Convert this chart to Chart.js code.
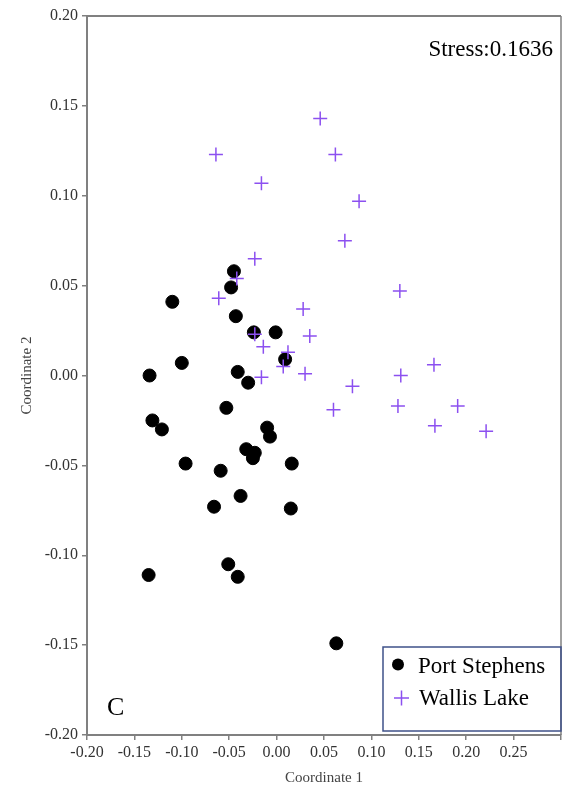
<!DOCTYPE html>
<html>
<head>
<meta charset="utf-8">
<script src="https://cdn.jsdelivr.net/npm/chart.js@4.4.1/dist/chart.umd.min.js"></script>
<style>
  html, body { margin: 0; padding: 0; background: #fff; }
</style>
</head>
<body>
<canvas id="chart" width="564" height="790"></canvas>
<script>
// Port Stephens (black dots)
var psX = [-0.045, -0.048, -0.110, -0.043, -0.024, -0.001, 0.009, -0.100, -0.134, -0.041, -0.030, -0.053, -0.131, -0.121, -0.010, -0.007, -0.032, -0.023, -0.025, -0.096, 0.016, -0.059, -0.038, -0.066, 0.015, -0.135, -0.051, -0.041, 0.063];
var psY = [0.058, 0.049, 0.041, 0.033, 0.024, 0.024, 0.009, 0.007, 0.000, 0.002, -0.004, -0.018, -0.025, -0.030, -0.029, -0.034, -0.041, -0.043, -0.046, -0.049, -0.049, -0.053, -0.067, -0.073, -0.074, -0.111, -0.105, -0.112, -0.149];

// Wallis Lake (purple crosses)
var wlX = [-0.064, -0.016, -0.023, 0.046, 0.062, 0.087, 0.072, -0.042, -0.061, -0.023, -0.014, 0.012, 0.007, -0.016, 0.028, 0.130, 0.035, 0.030, 0.166, 0.131, 0.080, 0.060, 0.128, 0.191, 0.167, 0.221];
var wlY = [0.123, 0.107, 0.065, 0.143, 0.123, 0.097, 0.075, 0.054, 0.043, 0.023, 0.016, 0.013, 0.005, -0.001, 0.037, 0.047, 0.022, 0.001, 0.006, 0.000, -0.006, -0.019, -0.017, -0.017, -0.028, -0.031];

var seriesNames = ["Port Stephens", "Wallis Lake"];
var stressLabel = "Stress:0.1636";
var panelLabel = "C";

var serif = "'Liberation Serif', 'Times New Roman', serif";
var purple = "#8c50f0";

function toPoints(xs, ys) {
  return xs.map(function (x, i) { return { x: x, y: ys[i] }; });
}

// frame, stress text, panel letter and legend box
var extras = {
  id: "extras",
  afterDraw: function (chart) {
    var ctx = chart.ctx;
    var a = chart.chartArea;
    ctx.save();
    ctx.strokeStyle = "#808080";
    ctx.lineWidth = 2;
    ctx.beginPath();
    ctx.moveTo(a.left, a.top);
    ctx.lineTo(a.right, a.top);
    ctx.stroke();
    ctx.lineWidth = 1.5;
    ctx.beginPath();
    ctx.moveTo(a.right, a.top);
    ctx.lineTo(a.right, a.bottom);
    ctx.stroke();

    ctx.fillStyle = "#000";
    ctx.font = "23px " + serif;
    ctx.textAlign = "right";
    ctx.textBaseline = "alphabetic";
    ctx.fillText(stressLabel, a.right - 8, a.top + 40);

    ctx.textAlign = "left";
    ctx.font = "26px " + serif;
    ctx.fillText(panelLabel, a.left + 20, a.bottom - 20);

    // legend
    var bw = 178, bh = 84;
    var bx = a.right - bw, by = a.bottom - 4 - bh;
    ctx.strokeStyle = "#3f5189";
    ctx.lineWidth = 1.5;
    ctx.strokeRect(bx, by, bw, bh);

    ctx.fillStyle = "#000";
    ctx.beginPath();
    ctx.arc(bx + 15, by + 17.5, 6, 0, Math.PI * 2);
    ctx.fill();

    ctx.strokeStyle = purple;
    ctx.lineWidth = 1.5;
    ctx.beginPath();
    ctx.moveTo(bx + 11, by + 51);
    ctx.lineTo(bx + 26, by + 51);
    ctx.moveTo(bx + 18.5, by + 43.5);
    ctx.lineTo(bx + 18.5, by + 58.5);
    ctx.stroke();

    ctx.fillStyle = "#000";
    ctx.font = "23px " + serif;
    ctx.fillText(seriesNames[0], bx + 35, by + 26);
    ctx.fillText(seriesNames[1], bx + 36, by + 58);
    ctx.restore();
  }
};

var axisTicks = { color: "#333", font: { family: serif, size: 16 } };

new Chart(document.getElementById("chart"), {
  type: "scatter",
  data: {
    datasets: [
      {
        label: seriesNames[0],
        data: toPoints(psX, psY),
        pointStyle: "circle",
        pointRadius: 6.5,
        pointHoverRadius: 6.5,
        backgroundColor: "#000",
        borderColor: "#000",
        order: 1
      },
      {
        label: seriesNames[1],
        data: toPoints(wlX, wlY),
        pointStyle: "cross",
        pointRadius: 7,
        pointHoverRadius: 7,
        borderColor: purple,
        borderWidth: 1.5,
        order: 0
      }
    ]
  },
  options: {
    responsive: false,
    animation: false,
    layout: { autoPadding: false, padding: { top: 16, right: 3, left: 0, bottom: 0 } },
    plugins: { legend: { display: false }, tooltip: { enabled: false } },
    scales: {
      x: {
        type: "linear",
        min: -0.2,
        max: 0.3,
        afterFit: function (s) { s.height = 55; s.paddingRight = 0; },
        grid: { display: true, drawOnChartArea: false, drawTicks: true, tickLength: 5, color: "#808080", lineWidth: 1.5 },
        border: { display: true, color: "#808080", width: 2 },
        ticks: {
          color: axisTicks.color,
          font: axisTicks.font,
          stepSize: 0.05,
          padding: 3,
          maxRotation: 0,
          autoSkip: false,
          callback: function (v) { return v > 0.27 ? "" : v.toFixed(2); }
        },
        title: { display: true, text: "Coordinate 1", color: "#444", font: { family: serif, size: 15 }, padding: { top: 0, bottom: 3 } }
      },
      y: {
        type: "linear",
        min: -0.2,
        max: 0.2,
        afterFit: function (s) { s.width = 87; },
        grid: { display: true, drawOnChartArea: false, drawTicks: true, tickLength: 5, color: "#808080", lineWidth: 1.5 },
        border: { display: true, color: "#808080", width: 2 },
        ticks: {
          color: axisTicks.color,
          font: axisTicks.font,
          stepSize: 0.05,
          padding: 4,
          autoSkip: false,
          callback: function (v) { return v.toFixed(2); }
        },
        title: { display: true, text: "Coordinate 2", color: "#444", font: { family: serif, size: 15 }, padding: { top: 18, bottom: 0 } }
      }
    }
  },
  plugins: [extras]
});
</script>
</body>
</html>
